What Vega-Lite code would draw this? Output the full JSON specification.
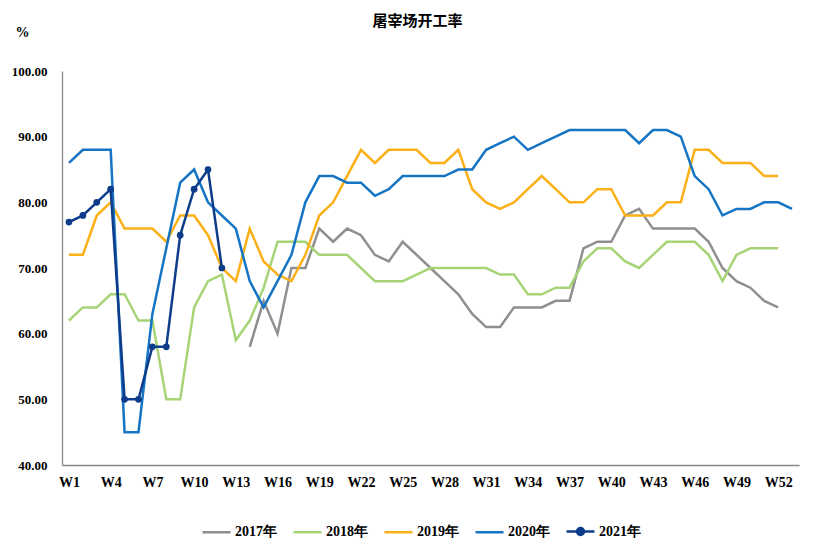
{
  "$schema": "https://vega.github.io/schema/vega-lite/v6.json",
  "width": 737,
  "height": 394,
  "autosize": {"type": "none"},
  "padding": {"left": 62, "top": 71, "right": 34, "bottom": 87},
  "background": "white",
  "title": {"text": "屠宰场开工率", "font": "Noto Sans CJK SC", "fontSize": 15, "fontWeight": "bold", "color": "#000000", "anchor": "middle", "frame": "group", "dx": -13, "offset": -4},
  "config": {"view": {"stroke": null}},
  "data": {"values": [
    {"w":"W14","s":"2017年","v":58},{"w":"W15","s":"2017年","v":65},{"w":"W16","s":"2017年","v":60},{"w":"W17","s":"2017年","v":70},{"w":"W18","s":"2017年","v":70},{"w":"W19","s":"2017年","v":76},{"w":"W20","s":"2017年","v":74},{"w":"W21","s":"2017年","v":76},{"w":"W22","s":"2017年","v":75},{"w":"W23","s":"2017年","v":72},{"w":"W24","s":"2017年","v":71},{"w":"W25","s":"2017年","v":74},{"w":"W26","s":"2017年","v":72},{"w":"W27","s":"2017年","v":70},{"w":"W28","s":"2017年","v":68},{"w":"W29","s":"2017年","v":66},{"w":"W30","s":"2017年","v":63},{"w":"W31","s":"2017年","v":61},{"w":"W32","s":"2017年","v":61},{"w":"W33","s":"2017年","v":64},{"w":"W34","s":"2017年","v":64},{"w":"W35","s":"2017年","v":64},{"w":"W36","s":"2017年","v":65},{"w":"W37","s":"2017年","v":65},{"w":"W38","s":"2017年","v":73},{"w":"W39","s":"2017年","v":74},{"w":"W40","s":"2017年","v":74},{"w":"W41","s":"2017年","v":78},{"w":"W42","s":"2017年","v":79},{"w":"W43","s":"2017年","v":76},{"w":"W44","s":"2017年","v":76},{"w":"W45","s":"2017年","v":76},{"w":"W46","s":"2017年","v":76},{"w":"W47","s":"2017年","v":74},{"w":"W48","s":"2017年","v":70},{"w":"W49","s":"2017年","v":68},{"w":"W50","s":"2017年","v":67},{"w":"W51","s":"2017年","v":65},{"w":"W52","s":"2017年","v":64},

    {"w":"W1","s":"2018年","v":62},{"w":"W2","s":"2018年","v":64},{"w":"W3","s":"2018年","v":64},{"w":"W4","s":"2018年","v":66},{"w":"W5","s":"2018年","v":66},{"w":"W6","s":"2018年","v":62},{"w":"W7","s":"2018年","v":62},{"w":"W8","s":"2018年","v":50},{"w":"W9","s":"2018年","v":50},{"w":"W10","s":"2018年","v":64},{"w":"W11","s":"2018年","v":68},{"w":"W12","s":"2018年","v":69},{"w":"W13","s":"2018年","v":59},{"w":"W14","s":"2018年","v":62},{"w":"W15","s":"2018年","v":67},{"w":"W16","s":"2018年","v":74},{"w":"W17","s":"2018年","v":74},{"w":"W18","s":"2018年","v":74},{"w":"W19","s":"2018年","v":72},{"w":"W20","s":"2018年","v":72},{"w":"W21","s":"2018年","v":72},{"w":"W22","s":"2018年","v":70},{"w":"W23","s":"2018年","v":68},{"w":"W24","s":"2018年","v":68},{"w":"W25","s":"2018年","v":68},{"w":"W26","s":"2018年","v":69},{"w":"W27","s":"2018年","v":70},{"w":"W28","s":"2018年","v":70},{"w":"W29","s":"2018年","v":70},{"w":"W30","s":"2018年","v":70},{"w":"W31","s":"2018年","v":70},{"w":"W32","s":"2018年","v":69},{"w":"W33","s":"2018年","v":69},{"w":"W34","s":"2018年","v":66},{"w":"W35","s":"2018年","v":66},{"w":"W36","s":"2018年","v":67},{"w":"W37","s":"2018年","v":67},{"w":"W38","s":"2018年","v":71},{"w":"W39","s":"2018年","v":73},{"w":"W40","s":"2018年","v":73},{"w":"W41","s":"2018年","v":71},{"w":"W42","s":"2018年","v":70},{"w":"W43","s":"2018年","v":72},{"w":"W44","s":"2018年","v":74},{"w":"W45","s":"2018年","v":74},{"w":"W46","s":"2018年","v":74},{"w":"W47","s":"2018年","v":72},{"w":"W48","s":"2018年","v":68},{"w":"W49","s":"2018年","v":72},{"w":"W50","s":"2018年","v":73},{"w":"W51","s":"2018年","v":73},{"w":"W52","s":"2018年","v":73},

    {"w":"W1","s":"2019年","v":72},{"w":"W2","s":"2019年","v":72},{"w":"W3","s":"2019年","v":78},{"w":"W4","s":"2019年","v":80},{"w":"W5","s":"2019年","v":76},{"w":"W6","s":"2019年","v":76},{"w":"W7","s":"2019年","v":76},{"w":"W8","s":"2019年","v":74},{"w":"W9","s":"2019年","v":78},{"w":"W10","s":"2019年","v":78},{"w":"W11","s":"2019年","v":75},{"w":"W12","s":"2019年","v":70},{"w":"W13","s":"2019年","v":68},{"w":"W14","s":"2019年","v":76},{"w":"W15","s":"2019年","v":71},{"w":"W16","s":"2019年","v":69},{"w":"W17","s":"2019年","v":68},{"w":"W18","s":"2019年","v":72},{"w":"W19","s":"2019年","v":78},{"w":"W20","s":"2019年","v":80},{"w":"W21","s":"2019年","v":84},{"w":"W22","s":"2019年","v":88},{"w":"W23","s":"2019年","v":86},{"w":"W24","s":"2019年","v":88},{"w":"W25","s":"2019年","v":88},{"w":"W26","s":"2019年","v":88},{"w":"W27","s":"2019年","v":86},{"w":"W28","s":"2019年","v":86},{"w":"W29","s":"2019年","v":88},{"w":"W30","s":"2019年","v":82},{"w":"W31","s":"2019年","v":80},{"w":"W32","s":"2019年","v":79},{"w":"W33","s":"2019年","v":80},{"w":"W34","s":"2019年","v":82},{"w":"W35","s":"2019年","v":84},{"w":"W36","s":"2019年","v":82},{"w":"W37","s":"2019年","v":80},{"w":"W38","s":"2019年","v":80},{"w":"W39","s":"2019年","v":82},{"w":"W40","s":"2019年","v":82},{"w":"W41","s":"2019年","v":78},{"w":"W42","s":"2019年","v":78},{"w":"W43","s":"2019年","v":78},{"w":"W44","s":"2019年","v":80},{"w":"W45","s":"2019年","v":80},{"w":"W46","s":"2019年","v":88},{"w":"W47","s":"2019年","v":88},{"w":"W48","s":"2019年","v":86},{"w":"W49","s":"2019年","v":86},{"w":"W50","s":"2019年","v":86},{"w":"W51","s":"2019年","v":84},{"w":"W52","s":"2019年","v":84},

    {"w":"W1","s":"2020年","v":86},{"w":"W2","s":"2020年","v":88},{"w":"W3","s":"2020年","v":88},{"w":"W4","s":"2020年","v":88},{"w":"W5","s":"2020年","v":45},{"w":"W6","s":"2020年","v":45},{"w":"W7","s":"2020年","v":63},{"w":"W8","s":"2020年","v":73},{"w":"W9","s":"2020年","v":83},{"w":"W10","s":"2020年","v":85},{"w":"W11","s":"2020年","v":80},{"w":"W12","s":"2020年","v":78},{"w":"W13","s":"2020年","v":76},{"w":"W14","s":"2020年","v":68},{"w":"W15","s":"2020年","v":64},{"w":"W16","s":"2020年","v":68},{"w":"W17","s":"2020年","v":72},{"w":"W18","s":"2020年","v":80},{"w":"W19","s":"2020年","v":84},{"w":"W20","s":"2020年","v":84},{"w":"W21","s":"2020年","v":83},{"w":"W22","s":"2020年","v":83},{"w":"W23","s":"2020年","v":81},{"w":"W24","s":"2020年","v":82},{"w":"W25","s":"2020年","v":84},{"w":"W26","s":"2020年","v":84},{"w":"W27","s":"2020年","v":84},{"w":"W28","s":"2020年","v":84},{"w":"W29","s":"2020年","v":85},{"w":"W30","s":"2020年","v":85},{"w":"W31","s":"2020年","v":88},{"w":"W32","s":"2020年","v":89},{"w":"W33","s":"2020年","v":90},{"w":"W34","s":"2020年","v":88},{"w":"W35","s":"2020年","v":89},{"w":"W36","s":"2020年","v":90},{"w":"W37","s":"2020年","v":91},{"w":"W38","s":"2020年","v":91},{"w":"W39","s":"2020年","v":91},{"w":"W40","s":"2020年","v":91},{"w":"W41","s":"2020年","v":91},{"w":"W42","s":"2020年","v":89},{"w":"W43","s":"2020年","v":91},{"w":"W44","s":"2020年","v":91},{"w":"W45","s":"2020年","v":90},{"w":"W46","s":"2020年","v":84},{"w":"W47","s":"2020年","v":82},{"w":"W48","s":"2020年","v":78},{"w":"W49","s":"2020年","v":79},{"w":"W50","s":"2020年","v":79},{"w":"W51","s":"2020年","v":80},{"w":"W52","s":"2020年","v":80},{"w":"W53","s":"2020年","v":79},

    {"w":"W1","s":"2021年","v":77},{"w":"W2","s":"2021年","v":78},{"w":"W3","s":"2021年","v":80},{"w":"W4","s":"2021年","v":82},{"w":"W5","s":"2021年","v":50},{"w":"W6","s":"2021年","v":50},{"w":"W7","s":"2021年","v":58},{"w":"W8","s":"2021年","v":58},{"w":"W9","s":"2021年","v":75},{"w":"W10","s":"2021年","v":82},{"w":"W11","s":"2021年","v":85},{"w":"W12","s":"2021年","v":70}
  ]},
  "layer": [
    {
      "mark": {"type": "line", "strokeWidth": 2.5},
      "encoding": {
        "x": {
          "field": "w", "type": "ordinal",
          "scale": {"type": "point", "padding": 0.5, "domain": ["W1","W2","W3","W4","W5","W6","W7","W8","W9","W10","W11","W12","W13","W14","W15","W16","W17","W18","W19","W20","W21","W22","W23","W24","W25","W26","W27","W28","W29","W30","W31","W32","W33","W34","W35","W36","W37","W38","W39","W40","W41","W42","W43","W44","W45","W46","W47","W48","W49","W50","W51","W52","W53"]},
          "axis": {
            "title": null,
            "values": ["W1","W4","W7","W10","W13","W16","W19","W22","W25","W28","W31","W34","W37","W40","W43","W46","W49","W52"],
            "labelAngle": 0, "ticks": false, "grid": false,
            "labelFont": "Liberation Serif", "labelFontSize": 14, "labelFontWeight": "bold", "labelColor": "#000000",
            "labelPadding": 10, "domainColor": "#888888", "domainWidth": 1.3
          }
        },
        "y": {
          "field": "v", "type": "quantitative",
          "scale": {"domain": [40, 100], "nice": false, "zero": false},
          "axis": {
            "title": "%", "titleAngle": 0, "titleX": -40, "titleY": -39, "titleAlign": "center", "titleBaseline": "middle",
            "titleFont": "Liberation Serif", "titleFontSize": 14, "titleFontWeight": "bold", "titleColor": "#000000",
            "values": [40, 50, 60, 70, 80, 90, 100], "format": ".2f",
            "ticks": false, "grid": false,
            "labelFont": "Liberation Serif", "labelFontSize": 13, "labelFontWeight": "bold", "labelColor": "#000000",
            "labelPadding": 15, "domainColor": "#888888", "domainWidth": 1.3
          }
        },
        "color": {
          "field": "s", "type": "nominal",
          "scale": {"domain": ["2017年","2018年","2019年","2020年","2021年"], "range": ["#8f8f8f","#a6d477","#fbb017","#1574c4","#0d3c8a"]},
          "legend": {
            "title": null, "orient": "none", "direction": "horizontal", "legendX": 139, "legendY": 445,
            "symbolType": "stroke", "symbolSize": 784, "symbolStrokeWidth": 2.5,
            "labelFont": "Liberation Serif", "labelFontSize": 14, "labelFontWeight": "bold", "labelColor": "#000000",
            "labelOffset": 3, "columnPadding": 11,
            "encode": {"symbols": {"update": {
              "shape": {"signal": "datum.value === '2021年' ? 'M-1,0H1M0.25,0A0.25,0.25,0,1,1,-0.25,0A0.25,0.25,0,1,1,0.25,0Z' : 'stroke'"},
              "fill": {"signal": "datum.value === '2021年' ? '#0d3c8a' : 'transparent'"}
            }}}
          }
        }
      }
    },
    {
      "transform": [{"filter": "datum.s === '2021年'"}],
      "mark": {"type": "point", "filled": true, "size": 45, "opacity": 1, "color": "#0d3c8a"},
      "encoding": {
        "x": {"field": "w", "type": "ordinal"},
        "y": {"field": "v", "type": "quantitative"}
      }
    }
  ]
}
